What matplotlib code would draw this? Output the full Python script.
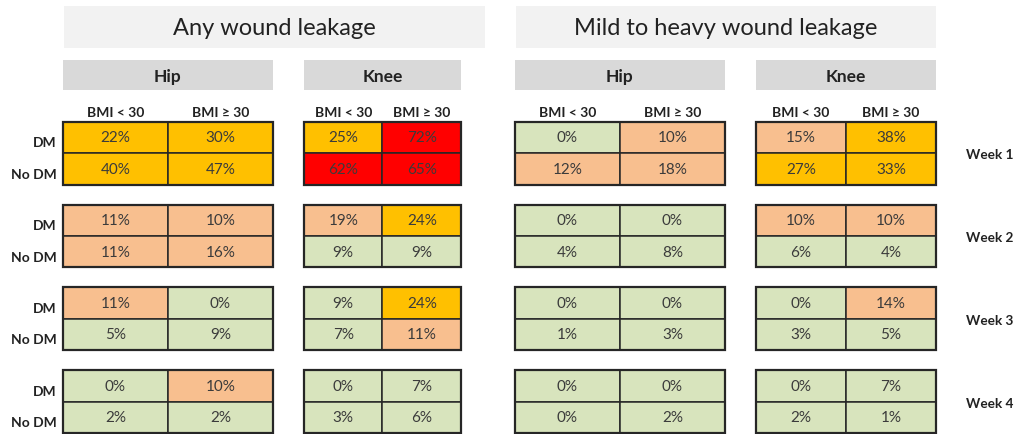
import matplotlib.pyplot as plt
from matplotlib.patches import Rectangle

plt.rcParams['font.family'] = ['Lato', 'DejaVu Sans']

# Data (percent), rows per week: [DM, No DM], columns: [BMI < 30, BMI >= 30]
weeks = ['Week 1', 'Week 2', 'Week 3', 'Week 4']
row_labels = ['DM', 'No DM']
col_labels = ['BMI < 30', 'BMI ≥ 30']
panel_titles = ['Any wound leakage', 'Mild to heavy wound leakage']
joints = ['Hip', 'Knee']

any_hip = [[[22, 30], [40, 47]],
           [[11, 10], [11, 16]],
           [[11, 0], [5, 9]],
           [[0, 10], [2, 2]]]
any_knee = [[[25, 72], [62, 65]],
            [[19, 24], [9, 9]],
            [[9, 24], [7, 11]],
            [[0, 7], [3, 6]]]
mild_hip = [[[0, 10], [12, 18]],
            [[0, 0], [4, 8]],
            [[0, 0], [1, 3]],
            [[0, 0], [0, 2]]]
mild_knee = [[[15, 38], [27, 33]],
             [[10, 10], [6, 4]],
             [[0, 14], [3, 5]],
             [[0, 7], [2, 1]]]


def cell_color(v):
    if v >= 50:
        return '#ff0000'
    if v >= 20:
        return '#ffc000'
    if v >= 10:
        return '#f8bf8f'
    return '#d8e4bd'


fig = plt.figure(figsize=(10.19, 4.35), dpi=100)
ax = fig.add_axes([0, 0, 1, 1])
ax.set_xlim(0, 1019)
ax.set_ylim(436, 0)
ax.axis('off')

# layout in pixels
blocks = [(63, 105, any_hip), (304, 78.5, any_knee),
          (515, 105, mild_hip), (756, 90, mild_knee)]
title_boxes = [(64, 421), (516, 420)]
week_top = 123
week_step = 83
row_h = 31.5
text_col = '#3b3b3b'

for (x0, w), title in zip(title_boxes, panel_titles):
    ax.add_patch(Rectangle((x0, 7), w, 42, facecolor='#f2f2f2', edgecolor='none'))
    ax.text(x0 + w / 2, 29, title, ha='center', va='center', fontsize=17, color='#222222')

for i, (x0, cw, data) in enumerate(blocks):
    joint = joints[i % 2]
    ax.add_patch(Rectangle((x0, 61), 2 * cw, 30, facecolor='#d9d9d9', edgecolor='none'))
    ax.text(x0 + cw, 77, joint, ha='center', va='center', fontsize=12.5, fontweight='bold', color='#222222')
    for c, lab in enumerate(col_labels):
        ax.text(x0 + cw * (c + 0.5), 113, lab, ha='center', va='center', fontsize=10,
                fontweight='bold', color='#222222')
    for wk in range(len(weeks)):
        y0 = week_top + wk * week_step
        for r in range(2):
            for c in range(2):
                v = data[wk][r][c]
                ax.add_patch(Rectangle((x0 + c * cw, y0 + r * row_h), cw, row_h,
                                       facecolor=cell_color(v), edgecolor='#262626', lw=1.1))
                ax.text(x0 + cw * (c + 0.5), y0 + r * row_h + row_h / 2, f'{v}%',
                        ha='center', va='center', fontsize=11, color=text_col)
        ax.add_patch(Rectangle((x0, y0), 2 * cw, 2 * row_h, facecolor='none',
                               edgecolor='#262626', lw=1.6))

for wk, name in enumerate(weeks):
    y0 = week_top + wk * week_step
    for r, lab in enumerate(row_labels):
        ax.text(57, y0 + r * row_h + row_h / 2 + 5, lab, ha='right', va='center',
                fontsize=10, fontweight='bold', color='#222222')
    ax.text(966, y0 + row_h + 1, name, ha='left', va='center', fontsize=9.8,
            fontweight='bold', color='#222222')

fig.savefig('out.png', dpi=100)
